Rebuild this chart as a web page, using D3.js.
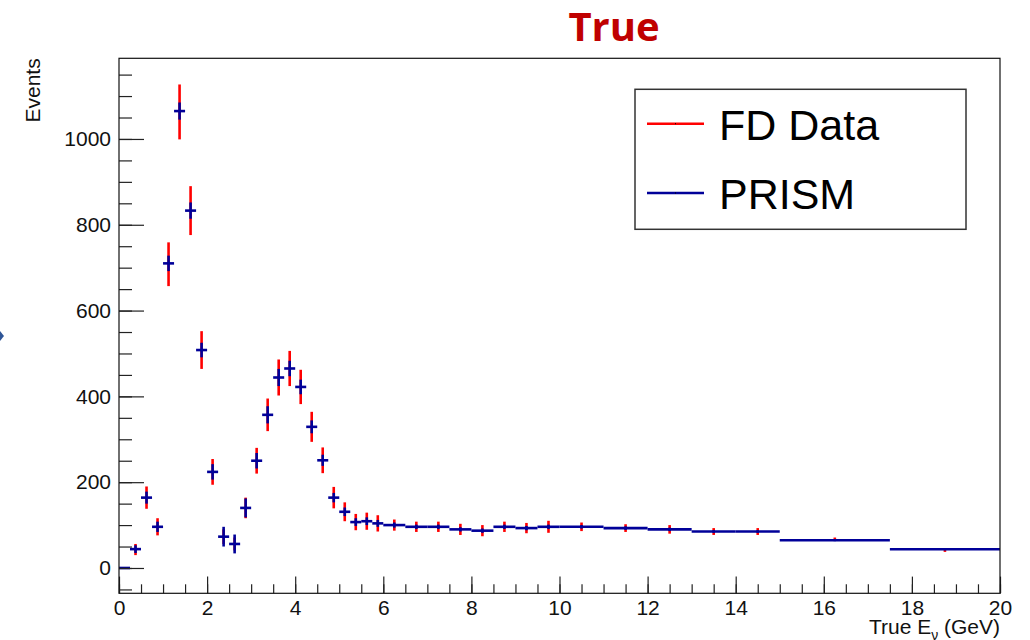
<!DOCTYPE html>
<html>
<head>
<meta charset="utf-8">
<title>True</title>
<script src="https://d3js.org/d3.v7.min.js"></script>
<style>
  body { margin: 0; background: #fff; }
  text { font-family: "Liberation Sans", Arial, sans-serif; }
</style>
</head>
<body>
<div id="here"></div>
<script>
// bin edges (GeV)
var binEdges = [0, 0.25, 0.5, 0.75, 1, 1.25, 1.5, 1.75, 2, 2.25, 2.5, 2.75, 3, 3.25, 3.5, 3.75, 4,
  4.25, 4.5, 4.75, 5, 5.25, 5.5, 5.75, 6, 6.5, 7, 7.5, 8, 8.5, 9, 9.5, 10, 11, 12, 13, 14, 15, 17.5, 20];

// FD Data
var fdValues = [0, 43, 164, 96, 708, 1063, 833, 508, 224, 73, 56, 140, 250, 357, 444, 465, 422,
  329, 251, 164, 131, 107, 109, 104, 100, 96, 96, 90, 87, 96, 93, 96, 96, 93, 90, 85, 85, 67, 40.5];
var fdErrors = [0, 13, 26, 20, 51, 64, 57, 44, 30, 17, 15, 24, 30, 38, 42, 41, 40,
  35, 30, 25, 22, 19, 20, 19, 13, 12, 12, 13, 13, 12, 12, 14, 10, 9, 10, 8, 8, 4, 3];

// PRISM
var prismValues = [0, 44, 164, 96, 710, 1065, 833, 508, 224, 73, 56, 140, 250, 357, 444, 465, 422,
  329, 251, 164, 131, 107, 109, 104, 100, 96, 96, 90, 87, 96, 93, 96, 96, 93, 90, 85, 85, 64.5, 43.5];
var prismErrors = [0, 9, 14, 12, 18, 20, 19, 17, 18, 23, 22, 22, 18, 20, 20, 18, 17,
  15, 13, 11, 10, 9, 9, 8, 6, 5, 5, 5, 5, 5, 5, 5, 4, 4, 4, 3, 3, 2, 2];

var xTicks = [0, 2, 4, 6, 8, 10, 12, 14, 16, 18, 20];
var yTicks = [0, 200, 400, 600, 800, 1000];

var W = 1030, H = 640;
var fLeft = 119, fRight = 1000, fTop = 58.3, fBottom = 593.3;

var svg = d3.select("#here").append("svg")
  .attr("width", W).attr("height", H);

svg.append("rect").attr("width", W).attr("height", H).attr("fill", "#fff");

var x = d3.scaleLinear().domain([0, 20]).range([fLeft, fRight]);
var y = d3.scaleLinear().domain([-59, 1188]).range([fBottom, fTop]);

// title
svg.append("text")
  .attr("x", 614).attr("y", 41)
  .attr("text-anchor", "middle")
  .attr("font-weight", "bold")
  .attr("font-size", 40)
  .attr("fill", "#c00000")
  .style("font-family", "'Open Sans', sans-serif")
  .text("True");

// little slide mark on the left edge
svg.append("path").attr("d", "M0,331 L4,336 L0,341 Z").attr("fill", "#2f5597");

// bins as objects
var bins = fdValues.map(function(v, i) {
  return { lo: binEdges[i], hi: binEdges[i + 1], fd: v, fdErr: fdErrors[i], pr: prismValues[i], prErr: prismErrors[i] };
});

// FD data error bars (red)
svg.append("g").selectAll("line")
  .data(bins.filter(function(d) { return d.fdErr > 0; }))
  .enter().append("line")
  .attr("x1", function(d) { return x((d.lo + d.hi) / 2); })
  .attr("x2", function(d) { return x((d.lo + d.hi) / 2); })
  .attr("y1", function(d) { return y(d.fd - d.fdErr); })
  .attr("y2", function(d) { return y(d.fd + d.fdErr); })
  .attr("stroke", "#ff0000")
  .attr("stroke-width", 2.6);

// PRISM (blue) - horizontal bin lines + vertical errors
var pr = svg.append("g");
pr.selectAll(".h")
  .data(bins)
  .enter().append("line").attr("class", "h")
  .attr("x1", function(d) { return x(d.lo); })
  .attr("x2", function(d) { return x(d.hi); })
  .attr("y1", function(d) { return y(d.pr); })
  .attr("y2", function(d) { return y(d.pr); })
  .attr("stroke", "#000099")
  .attr("stroke-width", 2.6);
pr.selectAll(".v")
  .data(bins.filter(function(d) { return d.prErr > 0; }))
  .enter().append("line").attr("class", "v")
  .attr("x1", function(d) { return x((d.lo + d.hi) / 2); })
  .attr("x2", function(d) { return x((d.lo + d.hi) / 2); })
  .attr("y1", function(d) { return y(d.pr - d.prErr); })
  .attr("y2", function(d) { return y(d.pr + d.prErr); })
  .attr("stroke", "#000099")
  .attr("stroke-width", 2.6);

// axes
var xMinor = svg.append("g").attr("transform", "translate(0," + fBottom + ")")
  .call(d3.axisBottom(x).tickValues(d3.range(0, 20.01, 0.5)).tickSize(-9).tickFormat(""));
var xMajor = svg.append("g").attr("transform", "translate(0," + fBottom + ")")
  .call(d3.axisBottom(x).tickValues(xTicks).tickSize(-16.7).tickPadding(7).tickFormat(d3.format("d")));
var yMinor = svg.append("g").attr("transform", "translate(" + fLeft + ",0)")
  .call(d3.axisLeft(y).tickValues(d3.range(-50, 1151, 50)).tickSize(-13).tickFormat(""));
var yMajor = svg.append("g").attr("transform", "translate(" + fLeft + ",0)")
  .call(d3.axisLeft(y).tickValues(yTicks).tickSize(-25).tickPadding(8).tickFormat(d3.format("d")));

[xMinor, xMajor, yMinor, yMajor].forEach(function(g) {
  g.select(".domain").remove();
  g.attr("font-size", 21);
  g.selectAll(".tick line").attr("stroke", "#222").attr("stroke-width", 1.2);
  g.selectAll(".tick text").attr("fill", "#111");
});

// frame
svg.append("rect")
  .attr("x", fLeft).attr("y", fTop)
  .attr("width", fRight - fLeft).attr("height", fBottom - fTop)
  .attr("fill", "none").attr("stroke", "#111").attr("stroke-width", 1.2);

// axis titles
svg.append("text")
  .attr("transform", "translate(40," + fTop + ") rotate(-90)")
  .attr("text-anchor", "end")
  .attr("font-size", 21)
  .attr("fill", "#111")
  .text("Events");

var xt = svg.append("text")
  .attr("x", fRight).attr("y", 634)
  .attr("text-anchor", "end")
  .attr("font-size", 21)
  .attr("fill", "#111");
xt.append("tspan").text("True E");
xt.append("tspan").attr("dy", 6).attr("font-size", 14).text("ν");
xt.append("tspan").attr("dy", -6).text(" (GeV)");

// legend
var leg = svg.append("g");
leg.append("rect")
  .attr("x", 635).attr("y", 89.3).attr("width", 331).attr("height", 140)
  .attr("fill", "#fff").attr("stroke", "#333").attr("stroke-width", 1.5);
var legItems = [
  { name: "FD Data", color: "#ff0000", y: 123.7 },
  { name: "PRISM", color: "#000099", y: 193 }
];
legItems.forEach(function(d) {
  leg.append("line")
    .attr("x1", 647).attr("x2", 704).attr("y1", d.y).attr("y2", d.y)
    .attr("stroke", d.color).attr("stroke-width", 2.5);
  leg.append("rect").attr("x", 675).attr("y", d.y - 0.5).attr("width", 1).attr("height", 1).attr("fill", "#000");
  leg.append("text")
    .attr("x", 719).attr("y", d.y + 16)
    .attr("font-size", 43)
    .attr("fill", "#000")
    .text(d.name);
});
</script>
</body>
</html>
